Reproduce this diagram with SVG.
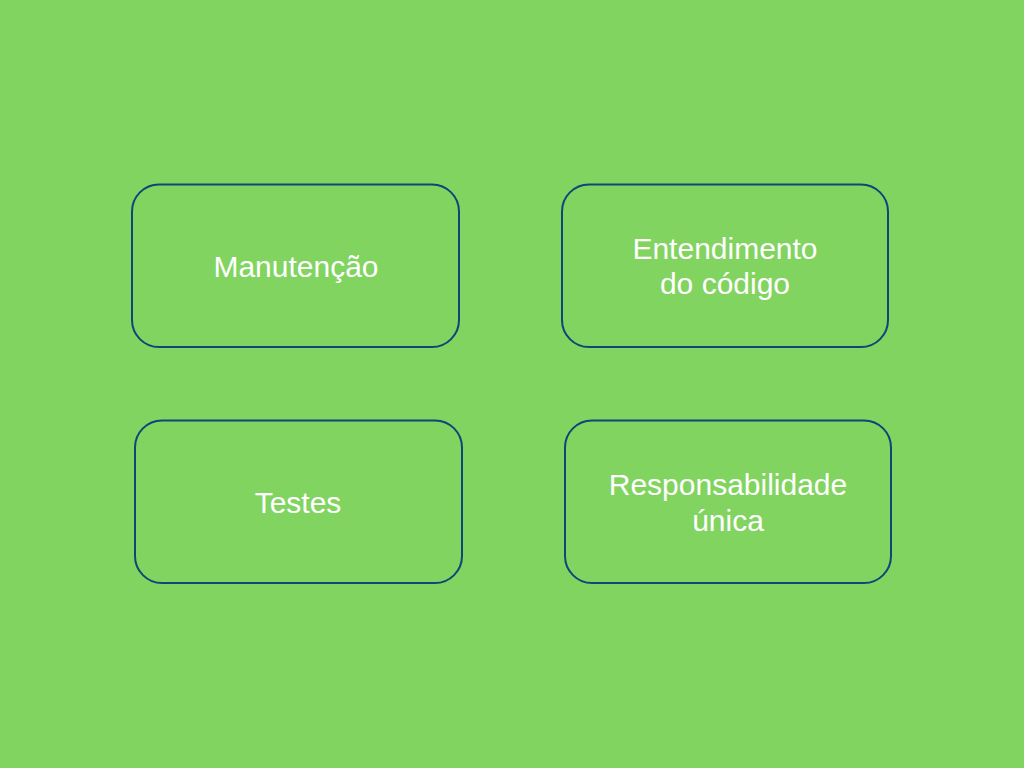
<svg xmlns="http://www.w3.org/2000/svg" width="1024" height="768" viewBox="0 0 1024 768">
<style>
.box{fill:none;stroke:#0b4878;stroke-width:2}
.lbl{font-family:"Liberation Sans",Arial,Helvetica,sans-serif;font-size:30px;fill:#ffffff;text-anchor:middle}
</style>
<rect x="0" y="0" width="1024" height="768" fill="#82d460"/>
<g id="connectors"/>
<g id="node-manutencao">
<rect class="box" x="132" y="184.5" width="327" height="162.5" rx="27"/>
<text class="lbl" x="296" y="277">Manutenção</text>
</g>
<g id="node-entendimento">
<rect class="box" x="562" y="184.5" width="326" height="162.5" rx="27"/>
<text class="lbl" x="725" y="259">Entendimento</text>
<text class="lbl" x="725" y="294">do código</text>
</g>
<g id="node-testes">
<rect class="box" x="135" y="420.5" width="327" height="162.5" rx="27"/>
<text class="lbl" x="298" y="513">Testes</text>
</g>
<g id="node-responsabilidade">
<rect class="box" x="565" y="420.5" width="326" height="162.5" rx="27"/>
<text class="lbl" x="728" y="495">Responsabilidade</text>
<text class="lbl" x="728" y="531">única</text>
</g>
</svg>
